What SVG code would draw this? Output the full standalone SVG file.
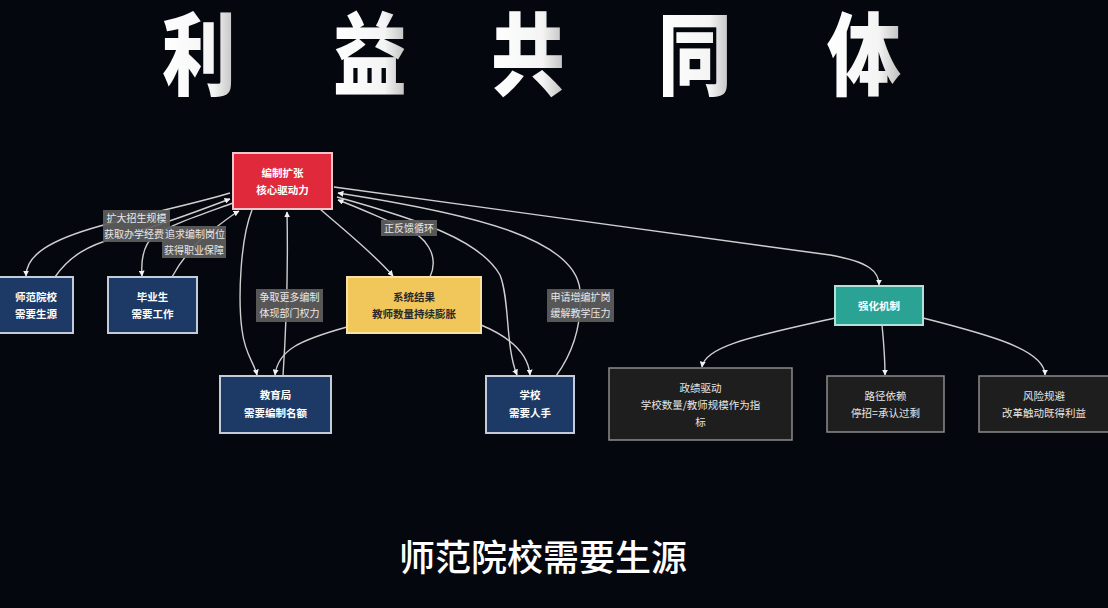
<svg xmlns="http://www.w3.org/2000/svg" width="1108" height="608" viewBox="0 0 1108 608">
<defs>
<marker id="ah" viewBox="0 0 10 10" refX="9" refY="5" markerWidth="6" markerHeight="6" markerUnits="userSpaceOnUse" orient="auto">
<path d="M0,0 L10,5 L0,10 z" fill="#f2f2f2"/>
</marker>
<linearGradient id="tg" x1="0" y1="0" x2="1" y2="0">
<stop offset="0" stop-color="#ffffff"/>
<stop offset="0.7" stop-color="#f4f4f4"/>
<stop offset="1" stop-color="#bdbdbd"/>
</linearGradient>
</defs>
<style>
text{font-family:"Noto Sans CJK SC","Noto Sans",sans-serif}
.title{font-size:90px;font-weight:900;fill:url(#tg);text-anchor:middle}
.sub{font-size:36px;font-weight:500;fill:#ffffff;text-anchor:middle}
.nt{font-size:10.5px;fill:#ffffff;text-anchor:middle;font-weight:700}
.ntd{font-size:10.5px;fill:#2a2a2a;text-anchor:middle;font-weight:700}
.ntg{font-size:10.5px;fill:#e6e6e6;text-anchor:middle}
.red{fill:#e02a3c;stroke:#f3c6cb;stroke-width:2}
.navy{fill:#1d3a66;stroke:#c3ccd8;stroke-width:2}
.yel{fill:#f1c65a;stroke:#f8e2a0;stroke-width:2}
.teal{fill:#2aa394;stroke:#b4e0da;stroke-width:2}
.dark{fill:#1e1e1e;stroke:#8c8c8c;stroke-width:1.5}
.e{fill:none;stroke:#cfcfcf;stroke-width:1.4}
.lb{fill:#5e5e5e;fill-opacity:0.92}
.lt{font-size:10px;fill:#e8e8e8;text-anchor:middle}
</style>
<rect x="0" y="0" width="1108" height="608" fill="#05070f"/>
<g id="title">
<text class="title" transform="translate(199,88) scale(0.82,1)">利</text>
<text class="title" transform="translate(370,88) scale(0.82,1)">益</text>
<text class="title" transform="translate(528,88) scale(0.82,1)">共</text>
<text class="title" transform="translate(695,88) scale(0.82,1)">同</text>
<text class="title" transform="translate(864,88) scale(0.82,1)">体</text>
</g>
<g id="connectors">
<path class="e" d="M230,193 C190,205 140,215 100,226 C50,240 26,255 26,276" marker-end="url(#ah)"/>
<path class="e" d="M55,277 C70,255 90,245 115,238 C160,226 200,210 230,199" marker-end="url(#ah)"/>
<path class="e" d="M233,203 C200,215 170,225 155,235 C142,245 141,262 142,276" marker-end="url(#ah)"/>
<path class="e" d="M172,277 C180,262 190,250 200,240 C215,228 230,216 239,211" marker-end="url(#ah)"/>
<path class="e" d="M252,210 C240,240 238,300 242,330 C245,355 254,362 257,375" marker-end="url(#ah)"/>
<path class="e" d="M283,376 C286,330 288,260 287,212" marker-end="url(#ah)"/>
<path class="e" d="M347,327 C300,340 278,350 275,375" marker-end="url(#ah)"/>
<path class="e" d="M320,209 C350,235 375,255 393,276" marker-end="url(#ah)"/>
<path class="e" d="M430,277 C440,255 425,236 405,228 C380,218 360,208 338,200" marker-end="url(#ah)"/>
<path class="e" d="M337,197 C420,220 480,240 500,275 C510,300 505,345 517,375" marker-end="url(#ah)"/>
<path class="e" d="M481,325 C505,335 528,350 530,375" marker-end="url(#ah)"/>
<path class="e" d="M556,376 C575,350 582,320 580,290 C575,240 480,215 338,193" marker-end="url(#ah)"/>
<path class="e" d="M334,187 L830,255 C870,262 879,272 879,285" marker-end="url(#ah)"/>
<path class="e" d="M835,318 C760,335 705,345 702,367" marker-end="url(#ah)"/>
<path class="e" d="M882,325 C884,345 885,360 885,375" marker-end="url(#ah)"/>
<path class="e" d="M923,318 C990,335 1045,350 1045,375" marker-end="url(#ah)"/>
<g id="edge-labels">
<rect class="lb" x="103" y="210" width="67" height="16"/>
<text class="lt" x="136.5" y="222">扩大招生规模</text>
<rect class="lb" x="103" y="226" width="62" height="16"/>
<text class="lt" x="134" y="238">获取办学经费</text>
<rect class="lb" x="164" y="226" width="62" height="16"/>
<text class="lt" x="195" y="238">追求编制岗位</text>
<rect class="lb" x="162" y="242" width="64" height="16"/>
<text class="lt" x="194" y="254">获得职业保障</text>
<rect class="lb" x="256" y="289" width="67" height="33"/>
<text class="lt" x="289.5" y="301">争取更多编制</text>
<text class="lt" x="289.5" y="317">体现部门权力</text>
<rect class="lb" x="381" y="220" width="56" height="16"/>
<text class="lt" x="409" y="232">正反馈循环</text>
<rect class="lb" x="547" y="289" width="67" height="33"/>
<text class="lt" x="580.5" y="301">申请增编扩岗</text>
<text class="lt" x="580.5" y="317">缓解教学压力</text>
</g>
</g>
<g id="n-core">
<rect class="red" x="233" y="153" width="99" height="56"/>
<text class="nt" x="282.5" y="177">编制扩张</text>
<text class="nt" x="282.5" y="194">核心驱动力</text>
</g>
<g id="n-normal">
<rect class="navy" x="-2" y="277" width="75" height="56"/>
<text class="nt" x="36" y="301">师范院校</text>
<text class="nt" x="36" y="318">需要生源</text>
</g>
<g id="n-grad">
<rect class="navy" x="108" y="277" width="89" height="56"/>
<text class="nt" x="152.5" y="301">毕业生</text>
<text class="nt" x="152.5" y="318">需要工作</text>
</g>
<g id="n-bureau">
<rect class="navy" x="220" y="376" width="111" height="57"/>
<text class="nt" x="275.5" y="399">教育局</text>
<text class="nt" x="275.5" y="417">需要编制名额</text>
</g>
<g id="n-result">
<rect class="yel" x="347" y="277" width="134" height="56"/>
<text class="ntd" x="414" y="301">系统结果</text>
<text class="ntd" x="414" y="318">教师数量持续膨胀</text>
</g>
<g id="n-school">
<rect class="navy" x="486" y="376" width="88" height="57"/>
<text class="nt" x="530" y="399">学校</text>
<text class="nt" x="530" y="417">需要人手</text>
</g>
<g id="n-reinforce">
<rect class="teal" x="835" y="286" width="88" height="39"/>
<text class="nt" x="879" y="310">强化机制</text>
</g>
<g id="n-perf">
<rect class="dark" x="609" y="368" width="183" height="72"/>
<text class="ntg" x="700.5" y="392">政绩驱动</text>
<text class="ntg" x="700.5" y="409">学校数量/教师规模作为指</text>
<text class="ntg" x="700.5" y="426">标</text>
</g>
<g id="n-path">
<rect class="dark" x="827" y="376" width="117" height="56"/>
<text class="ntg" x="885.5" y="400">路径依赖</text>
<text class="ntg" x="885.5" y="417">停招=承认过剩</text>
</g>
<g id="n-risk">
<rect class="dark" x="979" y="376" width="131" height="56"/>
<text class="ntg" x="1044" y="400">风险规避</text>
<text class="ntg" x="1044" y="417">改革触动既得利益</text>
</g>
<g id="subtitle">
<text class="sub" x="543" y="571">师范院校需要生源</text>
</g>
</svg>
